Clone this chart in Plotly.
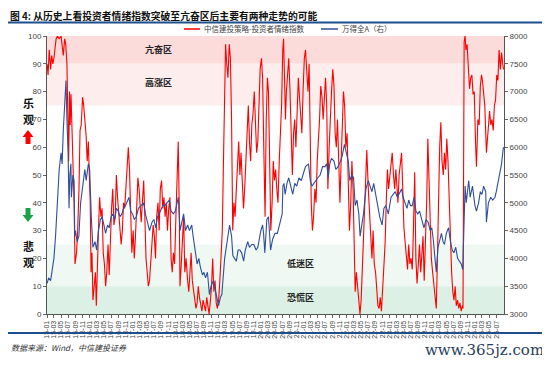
import plotly.graph_objects as go

# ---------------- data ----------------
# 中信建投策略-投资者情绪指数 (left axis), (MM-DD, value) per year
senti_2015 = [("01-02",90),("01-10",86),("01-20",95),("02-01",88),("02-10",93),("02-20",90),("03-01",92),("03-10",96),
              ("03-20",99),("04-01",100),("04-15",99),("05-01",100),("05-10",96),("05-20",93),("06-01",99),("06-10",97),
              ("06-20",90),("06-28",72),("07-05",55),("07-12",80),("07-18",68),("07-25",79),("08-01",62),("08-10",55),
              ("08-20",40),("08-28",18),("09-10",22),("09-20",30),("10-01",45),("10-10",66),("10-20",68),("11-01",78),
              ("11-10",75),("11-20",70),("12-01",64),("12-10",55),("12-20",62),("12-28",50)]
senti_2016 = [("01-05",40),("01-12",15),("01-20",22),("01-28",5),("02-05",8),("02-18",15),("02-26",3),("03-05",12),
              ("03-15",30),("03-25",42),("04-05",35),("04-15",38),("04-25",22),("05-05",18),("05-15",10),("05-25",15),
              ("06-05",25),("06-15",14),("06-25",28),("07-05",38),("07-15",45),("07-25",32),("08-05",35),("08-15",50),
              ("08-25",42),("09-05",35),("09-15",28),("09-25",25),("10-05",30),("10-15",40),("10-25",38),("11-05",45),
              ("11-15",55),("11-25",60),("12-05",52),("12-15",30),("12-25",22)]
senti_2017 = [("01-05",30),("01-15",20),("01-25",28),("02-05",40),("02-15",49),("02-25",45),("03-05",38),("03-15",33),
              ("03-25",40),("04-05",48),("04-15",35),("04-25",20),("05-05",15),("05-15",10),("05-25",12),("06-05",20),
              ("06-15",25),("06-25",32),("07-05",28),("07-15",20),("07-25",35),("08-05",40),("08-15",30),("08-25",45),
              ("09-05",48),("09-15",38),("09-25",42),("10-05",35),("10-15",40),("10-25",30),("11-05",38),("11-15",42),
              ("11-25",20),("12-05",15),("12-15",22),("12-25",18)]
senti_2018 = [("01-05",35),("01-15",50),("01-25",62),("02-02",40),("02-09",10),("02-20",18),("03-01",25),("03-12",35),
              ("03-22",15),("04-02",20),("04-15",12),("04-25",8),("05-05",15),("05-15",22),("05-25",12),("06-05",8),
              ("06-15",5),("06-25",2),("07-05",4),("07-15",10),("07-25",6),("08-05",3),("08-15",1),("08-25",5),
              ("09-05",3),("09-15",1),("09-25",6),("10-05",2),("10-15",0),("10-25",4),("11-05",10),("11-15",20),
              ("11-25",8),("12-05",12),("12-15",4),("12-25",2)]
senti_2019 = [("01-05",5),("01-15",12),("01-25",20),("02-05",30),("02-15",55),("02-25",85),("03-05",97),("03-15",90),
              ("03-25",85),("04-05",97),("04-15",92),("04-25",70),("05-05",30),("05-15",40),("05-25",35),("06-05",45),
              ("06-15",55),("06-25",62),("07-05",50),("07-15",58),("07-25",48),("08-05",38),("08-15",45),("08-25",55),
              ("09-05",70),("09-15",75),("09-25",62),("10-05",55),("10-15",68),("10-25",72),("11-05",80),("11-15",65),
              ("11-25",58),("12-05",62),("12-15",80),("12-25",88)]
senti_2020 = [("01-05",92),("01-15",85),("01-25",60),("02-05",35),("02-15",70),("02-25",85),("03-05",80),("03-15",50),
              ("03-25",30),("04-05",40),("04-15",55),("04-25",48),("05-05",52),("05-15",45),("05-25",40),("06-05",55),
              ("06-15",65),("06-25",75),("07-05",95),("07-12",99),("07-20",85),("07-28",70),("08-05",80),("08-15",88),
              ("08-25",92),("09-05",80),("09-15",60),("09-25",50),("10-05",65),("10-15",70),("10-25",60),("11-05",75),
              ("11-15",85),("11-25",78),("12-05",72),("12-15",65),("12-25",80)]
senti_2021 = [("01-05",92),("01-15",95),("01-25",88),("02-05",80),("02-15",90),("02-25",55),("03-05",40),("03-15",30),
              ("03-25",35),("04-05",45),("04-15",40),("04-25",55),("05-05",62),("05-15",70),("05-25",82),("06-05",78),
              ("06-15",70),("06-25",80),("07-05",85),("07-15",75),("07-25",45),("08-05",60),("08-15",72),("08-25",80),
              ("09-05",88),("09-15",82),("09-25",65),("10-05",60),("10-15",70),("10-25",50),("11-05",40),("11-15",55),
              ("11-25",70),("12-05",80),("12-15",75),("12-25",60)]
senti_2022 = [("01-05",65),("01-15",50),("01-25",30),("02-05",40),("02-15",55),("02-25",45),("03-05",25),("03-15",8),
              ("03-25",15),("04-05",10),("04-15",3),("04-25",0),("05-05",5),("05-15",15),("05-25",25),("06-05",40),
              ("06-15",50),("06-22",59),("07-05",45),("07-15",35),("07-25",28),("08-05",20),("08-15",30),("08-25",18),
              ("09-05",15),("09-15",8),("09-25",3),("10-05",2),("10-15",6),("10-25",1),("11-05",9),("11-15",20),
              ("11-25",25),("12-05",40),("12-15",52),("12-25",45)]
senti_2023 = [("01-05",50),("01-15",56),("01-25",58),("02-05",50),("02-15",45),("02-25",52),("03-05",48),("03-15",40),
              ("03-25",50),("04-05",55),("04-15",58),("04-25",45),("05-05",31),("05-15",26),("05-25",20),("06-05",16),
              ("06-15",25),("06-25",18),("07-05",20),("07-15",16),("07-25",30),("08-05",51),("08-15",20),("08-25",11),
              ("09-05",18),("09-15",25),("09-25",15),("10-05",20),("10-15",28),("10-25",12),("11-05",25),("11-15",40),
              ("11-25",63),("12-05",45),("12-15",30),("12-25",20)]
senti_2024 = [("01-05",15),("01-15",10),("01-25",5),("02-05",2),("02-15",20),("02-25",45),("03-05",60),("03-15",69),
              ("03-25",55),("04-05",50),("04-15",58),("04-25",52),("05-05",63),("05-15",55),("05-25",40),("06-05",25),
              ("06-15",15),("06-25",8),("07-05",5),("07-15",10),("07-25",3),("08-05",5),("08-15",2),("08-25",4),
              ("09-05",1),("09-15",3),("09-20",2),("09-26",60),("09-30",98),("10-08",100),("10-15",95),("10-25",97),
              ("11-05",87),("11-15",81),("11-25",85),("12-05",86),("12-15",79),("12-25",80)]
senti_2025 = [("01-05",62),("01-13",53),("01-25",70),("02-05",68),("02-15",82),("02-25",86),("03-05",84),("03-15",80),
              ("03-25",75),("04-08",58),("04-20",66),("05-05",73),("05-15",68),("05-25",70),("06-05",66),("06-15",75),
              ("06-25",77),("07-05",86),("07-15",84),("07-25",95),("08-05",88),("08-15",94),("08-25",90),("09-01",88)]

# 万得全A (right axis), (MM-DD, value) per year
wind_2015 = [("01-02",3550),("01-15",3650),("02-01",3600),("02-15",3800),("03-01",4000),("03-15",4400),("04-01",5000),
             ("04-15",5600),("05-01",5900),("05-10",5700),("05-20",6300),("06-01",6800),("06-12",7200),("06-20",6500),
             ("06-30",5900),("07-08",4900),("07-15",5500),("07-24",5700),("07-28",5100),("08-10",5500),("08-20",5400),
             ("08-26",4400),("09-01",4500),("09-15",4300),("09-30",4400),("10-15",5000),("11-01",5300),("11-20",5600),
             ("12-01",5400),("12-20",5700),("12-31",5600)]
wind_2016 = [("01-07",4900),("01-15",4700),("01-28",4200),("02-15",4300),("02-29",4150),("03-15",4500),("04-01",4700),
             ("04-15",4750),("05-01",4600),("05-15",4450),("06-01",4600),("06-15",4550),("07-01",4750),("07-15",4800),
             ("08-01",4700),("08-15",4900),("09-01",4850),("09-15",4750),("10-01",4800),("10-15",4900),("11-01",4950),
             ("11-20",5050),("12-01",5100),("12-15",4850),("12-31",4800)]
wind_2017 = [("01-15",4700),("02-01",4750),("02-20",4900),("03-15",4950),("04-05",5000),("04-20",4800),("05-10",4600),
             ("05-25",4500),("06-15",4650),("07-01",4700),("07-17",4550),("08-01",4750),("08-15",4800),("09-01",4900),
             ("09-15",4950),("10-01",4950),("10-20",5000),("11-10",5050),("11-25",4850),("12-15",4800),("12-31",4850)]
wind_2018 = [("01-15",5000),("01-26",5100),("02-09",4500),("02-28",4700),("03-12",4800),("03-28",4500),("04-15",4600),
             ("05-01",4500),("05-20",4600),("06-01",4400),("06-20",4100),("07-05",3900),("07-20",4000),("08-01",3850),
             ("08-20",3700),("09-01",3750),("09-15",3650),("10-01",3750),("10-18",3350),("11-01",3500),("11-20",3600),
             ("12-01",3500),("12-20",3300)]
wind_2019 = [("01-04",3150),("01-20",3300),("02-01",3350),("02-25",4000),("03-10",4200),("03-25",4400),("04-08",4600),
             ("04-25",4400),("05-06",4050),("05-20",4000),("06-05",3950),("06-20",4150),("07-05",4150),("07-20",4100),
             ("08-06",3950),("08-20",4150),("09-10",4300),("09-25",4200),("10-15",4250),("11-01",4250),("11-20",4150),
             ("12-05",4200),("12-20",4400),("12-31",4500)]
wind_2020 = [("01-15",4600),("01-23",4450),("02-03",4100),("02-20",4700),("03-05",4750),("03-23",4150),("04-10",4350),
             ("04-30",4450),("05-20",4450),("06-10",4650),("06-30",4800),("07-06",5300),("07-15",5350),("07-25",5150),
             ("08-10",5350),("08-25",5450),("09-10",5300),("09-28",5150),("10-15",5350),("11-01",5300),("11-20",5450),
             ("12-10",5400),("12-31",5550)]
wind_2021 = [("01-15",5650),("02-10",5700),("02-25",5400),("03-10",5300),("03-25",5350),("04-15",5400),("05-01",5450),
             ("05-20",5500),("06-10",5650),("06-30",5650),("07-15",5700),("07-28",5450),("08-10",5700),("08-25",5800),
             ("09-15",5750),("10-01",5600),("10-20",5650),("11-10",5750),("11-25",5850),("12-13",6050),("12-31",5900)]
wind_2022 = [("01-15",5750),("01-28",5400),("02-15",5500),("03-01",5450),("03-15",4950),("03-30",5050),("04-15",4800),
             ("04-26",4400),("05-10",4600),("05-25",4800),("06-15",5250),("07-05",5400),("07-20",5300),("08-05",5200),
             ("08-20",5350),("09-05",5150),("09-20",4950),("10-10",4750),("10-31",4600),("11-15",4900),("12-01",4950),
             ("12-23",4800)]
wind_2023 = [("01-15",5100),("01-31",5150),("02-20",5200),("03-10",5100),("03-31",5200),("04-15",5250),("04-28",5100),
             ("05-15",5000),("05-31",4900),("06-15",5050),("06-30",4950),("07-15",4950),("07-31",5100),("08-15",4850),
             ("08-31",4800),("09-15",4850),("10-01",4700),("10-23",4550),("11-10",4700),("11-28",4650),("12-15",4500),
             ("12-29",4550)]
wind_2024 = [("01-10",4350),("01-22",4100),("02-05",3750),("02-20",4200),("03-05",4350),("03-20",4450),("04-03",4300),
             ("04-15",4250),("05-01",4450),("05-20",4550),("06-05",4300),("06-20",4150),("07-05",4100),("07-20",4200),
             ("08-05",4000),("08-20",3950),("09-05",3900),("09-18",3800),("09-27",4600),("10-08",5300),("10-18",5000),
             ("11-08",5400),("11-20",5100),("12-10",5300),("12-31",4950)]
wind_2025 = [("01-13",4850),("01-31",5000),("02-15",5200),("03-01",5150),("03-15",5300),("04-02",5200),("04-08",4650),
             ("04-25",5000),("05-15",5100),("06-01",5050),("06-20",5100),("07-01",5200),("07-15",5350),("07-31",5500),
             ("08-15",5700),("08-28",5950),("09-01",6000)]

years = list(range(2015, 2026))
senti_by_year = [senti_2015, senti_2016, senti_2017, senti_2018, senti_2019, senti_2020,
                 senti_2021, senti_2022, senti_2023, senti_2024, senti_2025]
wind_by_year = [wind_2015, wind_2016, wind_2017, wind_2018, wind_2019, wind_2020,
                wind_2021, wind_2022, wind_2023, wind_2024, wind_2025]

# tick labels: every two months
tick_dates = [f"{y}-{m:02d}-01" for y in years for m in range(1, 13, 2) if not (y == 2025 and m > 7)]
tick_labels = [f"{str(y)[2:]}-{m:02d}" for y in years for m in range(1, 13, 2) if not (y == 2025 and m > 7)]

zone_bands = [(90, 100, "rgb(252,219,219)"), (75, 90, "rgb(253,237,237)"),
              (10, 25, "rgb(239,248,243)"), (0, 10, "rgb(221,240,229)")]

# ---------------- build ----------------
def expand(by_year):
    xs, ys = [], []
    for y, pts in zip(years, by_year):
        for md, v in pts:
            xs.append(f"{y}-{md}")
            ys.append(v)
    return xs, ys

sx, sy = expand(senti_by_year)
wx, wy = expand(wind_by_year)

# the page puts the figure 8px in from the top-left corner of the window
OFF = 8
FW, FH = 550 - OFF, 365 - OFF
# plot-area geometry in window pixels
L, R, T, B = 47, 504, 36, 314
W, H = R - L, B - T
def px(x): return (x - L) / W
def py(y): return (B - y) / H

fig = go.Figure()
fig.add_trace(go.Scatter(x=sx, y=sy, mode="lines", name="中信建投策略-投资者情绪指数",
                         line=dict(color="#FF0000", width=1.1), yaxis="y"))
fig.add_trace(go.Scatter(x=wx, y=wy, mode="lines", name="万得全A（右）",
                         line=dict(color="#2E4F9C", width=1.1), yaxis="y2"))

shapes = []
for lo, hi, col in zone_bands:
    shapes.append(dict(type="rect", xref="paper", yref="y", x0=0, x1=1, y0=lo, y1=hi,
                       fillcolor=col, line=dict(width=0), layer="below"))
# header / footer rules
shapes.append(dict(type="line", xref="paper", yref="paper", x0=px(8), x1=px(547), y0=py(22.5), y1=py(22.5),
                   line=dict(color="#1F4E8C", width=2)))
shapes.append(dict(type="line", xref="paper", yref="paper", x0=px(8), x1=px(547), y0=py(333), y1=py(333),
                   line=dict(color="#1F4E8C", width=2)))
# legend lines
shapes.append(dict(type="line", xref="paper", yref="paper", x0=px(184), x1=px(200), y0=py(29), y1=py(29),
                   line=dict(color="#FF0000", width=1.5)))
shapes.append(dict(type="line", xref="paper", yref="paper", x0=px(321), x1=px(338), y0=py(29), y1=py(29),
                   line=dict(color="#2E4F9C", width=1.5)))

def arrow_path(cx, ytop, ybot, up=True, hw=5.5, sw=2.5, hh=7):
    if up:
        pts = [(cx, ytop), (cx + hw, ytop + hh), (cx + sw, ytop + hh), (cx + sw, ybot),
               (cx - sw, ybot), (cx - sw, ytop + hh), (cx - hw, ytop + hh)]
    else:
        pts = [(cx, ybot), (cx + hw, ybot - hh), (cx + sw, ybot - hh), (cx + sw, ytop),
               (cx - sw, ytop), (cx - sw, ybot - hh), (cx - hw, ybot - hh)]
    return "M " + " L ".join(f"{px(a):.4f},{py(b):.4f}" for a, b in pts) + " Z"

shapes.append(dict(type="path", xref="paper", yref="paper", path=arrow_path(28, 130, 144, True),
                   fillcolor="#FF0000", line=dict(width=0)))
shapes.append(dict(type="path", xref="paper", yref="paper", path=arrow_path(28, 208, 222, False),
                   fillcolor="#1AA24A", line=dict(width=0)))

cjk = "Noto Sans CJK SC"
ann = []
def text(x, y, s, size, color="#000", xanchor="center", bold=False, italic=False, family=cjk, yanchor="middle"):
    if bold: s = f"<b>{s}</b>"
    if italic: s = f"<i>{s}</i>"
    ann.append(dict(x=px(x), y=py(y), xref="paper", yref="paper", text=s, showarrow=False,
                    xanchor=xanchor, yanchor=yanchor, font=dict(size=size, color=color, family=family)))

text(8, 7, "图 4: 从历史上看投资者情绪指数突破至亢奋区后主要有两种走势的可能", 9.8, "#111", "left",
     bold=True, yanchor="top")
text(202, 29, "中信建投策略-投资者情绪指数", 7.5, "#444", "left")
text(340, 29, "万得全A（右）", 7.5, "#444", "left")
text(158, 49, "亢奋区", 9, "#222", bold=True)
text(158, 83, "高涨区", 9, "#222", bold=True)
text(300, 263, "低迷区", 9, "#222", bold=True)
text(300, 297, "恐慌区", 9, "#222", bold=True)
text(28, 103, "乐", 11, "#111", bold=True)
text(28, 119, "观", 11, "#111", bold=True)
text(28, 246, "悲", 11, "#111", bold=True)
text(28, 262, "观", 11, "#111", bold=True)
text(9, 347, "数据来源：Wind，中信建投证券", 8, "#333", "left", italic=True)
text(546, 350, "www.365jz.com", 15, "#2A3D5C", "right", family="DejaVu Serif")

fig.update_layout(
    width=FW, height=FH, margin=dict(l=L - OFF, r=FW - (R - OFF), t=T - OFF, b=FH - (B - OFF)),
    paper_bgcolor="white", plot_bgcolor="white", showlegend=False,
    shapes=shapes, annotations=ann,
    xaxis=dict(type="date", range=["2015-01-01", "2025-09-05"], tickvals=tick_dates, ticktext=tick_labels,
               tickangle=-90, tickfont=dict(size=7, color="#444", family="Liberation Sans"),
               ticks="outside", ticklen=3, tickcolor="#666", showline=True, linecolor="#555",
               showgrid=False, zeroline=False),
    yaxis=dict(range=[0, 100], dtick=10, tickfont=dict(size=8, color="#444", family="Liberation Sans"),
               ticks="outside", ticklen=3, tickcolor="#666", showline=True, linecolor="#555",
               showgrid=False, zeroline=False),
    yaxis2=dict(range=[3000, 8000], dtick=500, overlaying="y", side="right",
                tickfont=dict(size=8, color="#444", family="Liberation Sans"),
                ticks="outside", ticklen=3, tickcolor="#666", showline=True, linecolor="#555",
                showgrid=False, zeroline=False),
)

fig.write_html("out.html")
